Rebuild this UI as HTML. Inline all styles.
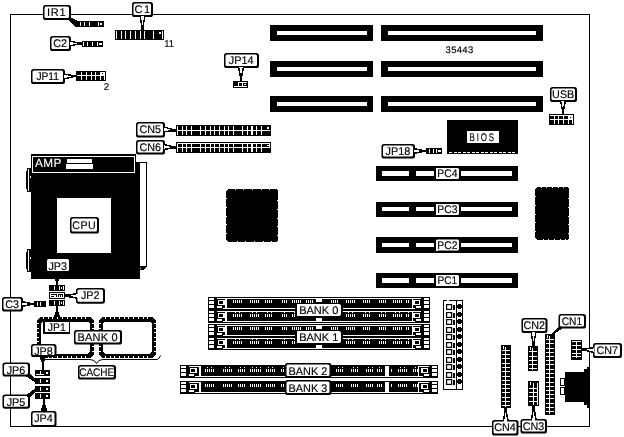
<!DOCTYPE html>
<html><head><meta charset="utf-8"><title>Motherboard diagram</title>
<style>
html,body{margin:0;padding:0;background:#fff;}
body{width:624px;height:437px;overflow:hidden;}
svg{display:block;font-family:"Liberation Sans",sans-serif;shape-rendering:crispEdges;}
svg .aa{shape-rendering:geometricPrecision;}
svg .cr{shape-rendering:crispEdges;}
svg text{shape-rendering:geometricPrecision;text-rendering:geometricPrecision;}
svg{filter:grayscale(1);}
</style></head>
<body>
<svg width="624" height="437" viewBox="0 0 624 437">
<rect x="0" y="0" width="624" height="437" fill="#fff"/>
<rect x="10.5" y="14.5" width="579" height="412" fill="none" stroke="#000" stroke-width="1"/>
<rect x="270" y="25" width="103" height="16" fill="#000"/>
<rect x="277" y="31" width="90" height="4" fill="#fff"/>
<rect x="381" y="25" width="162" height="16" fill="#000"/>
<rect x="388" y="31" width="148" height="4" fill="#fff"/>
<rect x="270" y="61" width="103" height="16" fill="#000"/>
<rect x="277" y="67" width="90" height="4" fill="#fff"/>
<rect x="381" y="61" width="162" height="16" fill="#000"/>
<rect x="388" y="67" width="148" height="4" fill="#fff"/>
<rect x="270" y="96" width="103" height="16" fill="#000"/>
<rect x="277" y="102" width="90" height="4" fill="#fff"/>
<rect x="381" y="96" width="162" height="16" fill="#000"/>
<rect x="388" y="102" width="148" height="4" fill="#fff"/>
<text transform="translate(459.5,53) scale(1.0,1)" font-size="9.5" text-anchor="middle" fill="#000" stroke="#000" stroke-width="0.15" letter-spacing="0.3">35443</text>
<rect x="376" y="166" width="142" height="15" fill="#000"/>
<rect x="382" y="171" width="27" height="5" fill="#fff"/>
<rect x="416" y="171" width="18" height="5" fill="#fff"/>
<rect x="461" y="171" width="51" height="5" fill="#fff"/>
<rect x="436" y="168" width="23" height="11" rx="1.5" fill="#fff" class="aa"/>
<rect x="436" y="168" width="2" height="11" fill="#fff"/>
<text transform="translate(447.4,177) scale(0.94,1)" font-size="11" text-anchor="middle" fill="#000" stroke="#000" stroke-width="0.15">PC4</text>
<rect x="376" y="202" width="142" height="15" fill="#000"/>
<rect x="382" y="207" width="27" height="4" fill="#fff"/>
<rect x="416" y="207" width="18" height="4" fill="#fff"/>
<rect x="461" y="207" width="51" height="4" fill="#fff"/>
<rect x="436" y="204" width="23" height="11" rx="1.5" fill="#fff" class="aa"/>
<rect x="436" y="204" width="2" height="11" fill="#fff"/>
<text transform="translate(447.4,213) scale(0.94,1)" font-size="11" text-anchor="middle" fill="#000" stroke="#000" stroke-width="0.15">PC3</text>
<rect x="376" y="237" width="142" height="16" fill="#000"/>
<rect x="382" y="243" width="27" height="4" fill="#fff"/>
<rect x="416" y="243" width="18" height="4" fill="#fff"/>
<rect x="461" y="243" width="51" height="4" fill="#fff"/>
<rect x="436" y="239.5" width="23" height="11" rx="1.5" fill="#fff" class="aa"/>
<rect x="436" y="239.5" width="2" height="11.0" fill="#fff"/>
<text transform="translate(447.4,248.5) scale(0.94,1)" font-size="11" text-anchor="middle" fill="#000" stroke="#000" stroke-width="0.15">PC2</text>
<rect x="376" y="273" width="142" height="15" fill="#000"/>
<rect x="382" y="278" width="27" height="5" fill="#fff"/>
<rect x="416" y="278" width="18" height="5" fill="#fff"/>
<rect x="461" y="278" width="51" height="5" fill="#fff"/>
<rect x="436" y="275" width="23" height="11" rx="1.5" fill="#fff" class="aa"/>
<rect x="436" y="275" width="2" height="11" fill="#fff"/>
<text transform="translate(447.4,284) scale(0.92,1)" font-size="11" text-anchor="middle" fill="#000" stroke="#000" stroke-width="0.15">PC1</text>
<rect x="447" y="120" width="71" height="34" fill="#000"/>
<rect x="449" y="152" width="3" height="1" fill="#fff"/>
<rect x="453.5" y="152" width="3.0" height="1" fill="#fff"/>
<rect x="458.0" y="152" width="3.0" height="1" fill="#fff"/>
<rect x="462.5" y="152" width="3.0" height="1" fill="#fff"/>
<rect x="467.0" y="152" width="3.0" height="1" fill="#fff"/>
<rect x="471.5" y="152" width="3.0" height="1" fill="#fff"/>
<rect x="476.0" y="152" width="3.0" height="1" fill="#fff"/>
<rect x="480.5" y="152" width="3.0" height="1" fill="#fff"/>
<rect x="485.0" y="152" width="3.0" height="1" fill="#fff"/>
<rect x="489.5" y="152" width="3.0" height="1" fill="#fff"/>
<rect x="494.0" y="152" width="3.0" height="1" fill="#fff"/>
<rect x="498.5" y="152" width="3.0" height="1" fill="#fff"/>
<rect x="503.0" y="152" width="3.0" height="1" fill="#fff"/>
<rect x="507.5" y="152" width="3.0" height="1" fill="#fff"/>
<rect x="512.0" y="152" width="3.0" height="1" fill="#fff"/>
<rect x="467" y="131" width="32" height="12" fill="#fff"/>
<text transform="translate(482.7,141) scale(0.72,1)" font-size="11" text-anchor="middle" fill="#000" stroke="#000" stroke-width="0.15" letter-spacing="2.6">BIOS</text>
<polygon points="228,189 276,189 278,191 278,240 276,242 228,242 226,240 226,191" fill="#000" class="cr"/>
<rect x="235" y="189" width="1" height="1" fill="#fff"/>
<rect x="237" y="241" width="1" height="1" fill="#fff"/>
<rect x="243" y="189" width="1" height="1" fill="#fff"/>
<rect x="245" y="241" width="1" height="1" fill="#fff"/>
<rect x="252" y="189" width="1" height="1" fill="#fff"/>
<rect x="254" y="241" width="1" height="1" fill="#fff"/>
<rect x="261" y="189" width="1" height="1" fill="#fff"/>
<rect x="263" y="241" width="1" height="1" fill="#fff"/>
<rect x="269" y="189" width="1" height="1" fill="#fff"/>
<rect x="271" y="241" width="1" height="1" fill="#fff"/>
<rect x="226" y="198" width="1" height="1" fill="#fff"/>
<rect x="277" y="200" width="1" height="1" fill="#fff"/>
<rect x="226" y="207" width="1" height="1" fill="#fff"/>
<rect x="277" y="209" width="1" height="1" fill="#fff"/>
<rect x="226" y="216" width="1" height="1" fill="#fff"/>
<rect x="277" y="218" width="1" height="1" fill="#fff"/>
<rect x="226" y="224" width="1" height="1" fill="#fff"/>
<rect x="277" y="226" width="1" height="1" fill="#fff"/>
<rect x="226" y="233" width="1" height="1" fill="#fff"/>
<rect x="277" y="235" width="1" height="1" fill="#fff"/>
<polygon points="537,187 567,187 569,189 569,238 567,240 537,240 535,238 535,189" fill="#000" class="cr"/>
<rect x="541" y="187" width="1" height="1" fill="#fff"/>
<rect x="543" y="239" width="1" height="1" fill="#fff"/>
<rect x="546" y="187" width="1" height="1" fill="#fff"/>
<rect x="548" y="239" width="1" height="1" fill="#fff"/>
<rect x="552" y="187" width="1" height="1" fill="#fff"/>
<rect x="554" y="239" width="1" height="1" fill="#fff"/>
<rect x="558" y="187" width="1" height="1" fill="#fff"/>
<rect x="560" y="239" width="1" height="1" fill="#fff"/>
<rect x="563" y="187" width="1" height="1" fill="#fff"/>
<rect x="565" y="239" width="1" height="1" fill="#fff"/>
<rect x="535" y="196" width="1" height="1" fill="#fff"/>
<rect x="568" y="198" width="1" height="1" fill="#fff"/>
<rect x="535" y="205" width="1" height="1" fill="#fff"/>
<rect x="568" y="207" width="1" height="1" fill="#fff"/>
<rect x="535" y="214" width="1" height="1" fill="#fff"/>
<rect x="568" y="216" width="1" height="1" fill="#fff"/>
<rect x="535" y="222" width="1" height="1" fill="#fff"/>
<rect x="568" y="224" width="1" height="1" fill="#fff"/>
<rect x="535" y="231" width="1" height="1" fill="#fff"/>
<rect x="568" y="233" width="1" height="1" fill="#fff"/>
<rect x="31" y="154" width="105" height="22" fill="#000"/>
<rect x="31" y="162" width="109" height="117" fill="#000"/>
<rect x="136" y="162" width="11" height="1" fill="#000"/>
<rect x="146" y="162" width="1" height="104" fill="#000"/>
<rect x="140" y="163" width="6" height="102" fill="#fff"/>
<polygon points="140,265 147,265 147,266 143,270 140,270" fill="#000" class="cr"/>
<rect x="140" y="265" width="6" height="1" fill="#fff"/>
<polygon points="140,266 146,266 142.5,269.5 140,269.5" fill="#000" class="cr"/>
<rect x="140" y="268" width="1" height="1" fill="#fff"/>
<rect x="32.5" y="156.5" width="102" height="16" fill="none" stroke="#fff" stroke-width="1"/>
<text transform="translate(35,166.7) scale(0.98,1)" font-size="12" text-anchor="start" fill="#fff" stroke="#fff" stroke-width="0.15" letter-spacing="0.5">AMP</text>
<rect x="67" y="159" width="25" height="4" fill="#fff"/>
<rect x="66" y="164" width="27" height="5" fill="#fff"/>
<rect x="57" y="198" width="54" height="55" fill="#fff"/>
<rect x="27" y="168" width="4" height="24" fill="#000"/>
<rect x="26" y="171" width="1" height="18" fill="#000"/>
<rect x="28" y="169" width="1.3" height="22" fill="#fff"/>
<rect x="30" y="176" width="1" height="2" fill="#fff"/>
<rect x="27" y="249" width="4" height="23" fill="#000"/>
<rect x="26" y="252" width="1" height="17" fill="#000"/>
<rect x="28" y="250" width="1.3" height="21" fill="#fff"/>
<rect x="30" y="257" width="1" height="2" fill="#fff"/>
<rect x="70" y="217" width="29" height="16.5" rx="2.6" ry="2.6" fill="#000" class="aa"/>
<rect x="71.5" y="218.4" width="25.5" height="13.1" rx="1.5" ry="1.5" fill="#fff" class="aa"/>
<text transform="translate(84.2,228.60000000000002) scale(0.97,1)" font-size="11" text-anchor="middle" fill="#000" stroke="#000" stroke-width="0.15" letter-spacing="0.5">CPU</text>
<rect x="47" y="259" width="22" height="12" rx="1.5" fill="#fff" class="aa"/>
<text transform="translate(57.7,269.5) scale(0.98,1)" font-size="11" text-anchor="middle" fill="#000" stroke="#000" stroke-width="0.15">JP3</text>
<rect x="56" y="271" width="2" height="14" fill="#000"/>
<polygon points="54.5,278 59.5,278 58,282 56,282" fill="#000" class="cr"/>
<rect x="49" y="285" width="16" height="6" fill="#000"/>
<rect x="54" y="286" width="1" height="4" fill="#fff"/>
<rect x="59" y="286" width="1" height="4" fill="#fff"/>
<rect x="61" y="287" width="1" height="2" fill="#fff"/>
<rect x="63" y="286" width="1" height="4" fill="#fff"/>
<rect x="49" y="292" width="16" height="7" fill="#000"/>
<rect x="50" y="293" width="14" height="5" fill="#fff"/>
<rect x="51" y="294" width="6" height="1" fill="#000"/>
<rect x="56" y="294" width="1" height="3" fill="#000"/>
<rect x="51" y="296" width="3" height="1" fill="#000"/>
<rect x="58" y="294" width="5" height="1" fill="#000"/>
<rect x="58" y="294" width="1" height="3" fill="#000"/>
<rect x="60" y="295" width="1" height="2" fill="#000"/>
<rect x="62" y="294" width="1" height="3" fill="#000"/>
<rect x="49" y="300" width="16" height="6" fill="#000"/>
<rect x="54" y="301" width="1" height="4" fill="#fff"/>
<rect x="59" y="301" width="1" height="4" fill="#fff"/>
<rect x="61" y="302" width="1" height="2" fill="#fff"/>
<rect x="63" y="301" width="1" height="4" fill="#fff"/>
<rect x="56" y="306" width="2" height="12" fill="#000"/>
<polygon points="56,311 58,311 60.5,317 53.5,317" fill="#000" class="cr"/>
<rect x="76" y="288" width="29" height="15.699999999999989" rx="2.6" ry="2.6" fill="#000" class="aa"/>
<rect x="77.5" y="289.4" width="25.5" height="12.3" rx="1.5" ry="1.5" fill="#fff" class="aa"/>
<text transform="translate(90.2,299.3) scale(0.98,1)" font-size="11" text-anchor="middle" fill="#000" stroke="#000" stroke-width="0.15">JP2</text>
<polygon points="76.5,292.8 68.22,294.3 65.0,294.3 65.0,297.3 68.22,297.3 76.5,298.8" fill="#000" class="cr"/>
<polygon points="77.5,294.1 77.5,297.5 69.6,295.8" fill="#fff" class="cr"/>
<rect x="2" y="297" width="21" height="14.5" rx="2.6" ry="2.6" fill="#000" class="aa"/>
<rect x="3.5" y="298.4" width="17.5" height="11.1" rx="1.5" ry="1.5" fill="#fff" class="aa"/>
<text transform="translate(12.2,308.3) scale(0.98,1)" font-size="11" text-anchor="middle" fill="#000" stroke="#000" stroke-width="0.15">C3</text>
<polygon points="22.5,307.0 30.78,305.3 34.0,305.3 34.0,302.7 30.78,302.7 22.5,301.0" fill="#000" class="cr"/>
<polygon points="21.5,305.7 21.5,302.3 29.4,304.0" fill="#fff" class="cr"/>
<rect x="34" y="301" width="12" height="5.5" fill="#000"/>
<rect x="37" y="302" width="1" height="4" fill="#fff"/>
<rect x="40" y="302" width="1" height="4" fill="#fff"/>
<polygon points="40.5,317 90.5,317 94,320.5 94,354.5 90.5,358 40.5,358 37,354.5 37,320.5" fill="#000" class="cr"/>
<polygon points="42.5,321.5 88.0,321.5 89.5,323.0 89.5,352.0 88.0,353.5 42.5,353.5 41,352.0 41,323.0" fill="#fff" class="cr"/>
<rect x="43" y="317" width="1" height="2" fill="#fff"/>
<rect x="43" y="356" width="1" height="2" fill="#fff"/>
<rect x="48" y="317" width="1" height="2" fill="#fff"/>
<rect x="48" y="356" width="1" height="2" fill="#fff"/>
<rect x="52" y="317" width="1" height="2" fill="#fff"/>
<rect x="52" y="356" width="1" height="2" fill="#fff"/>
<rect x="57" y="317" width="1" height="2" fill="#fff"/>
<rect x="57" y="356" width="1" height="2" fill="#fff"/>
<rect x="62" y="317" width="1" height="2" fill="#fff"/>
<rect x="62" y="356" width="1" height="2" fill="#fff"/>
<rect x="67" y="317" width="1" height="2" fill="#fff"/>
<rect x="67" y="356" width="1" height="2" fill="#fff"/>
<rect x="71" y="317" width="1" height="2" fill="#fff"/>
<rect x="71" y="356" width="1" height="2" fill="#fff"/>
<rect x="76" y="317" width="1" height="2" fill="#fff"/>
<rect x="76" y="356" width="1" height="2" fill="#fff"/>
<rect x="81" y="317" width="1" height="2" fill="#fff"/>
<rect x="81" y="356" width="1" height="2" fill="#fff"/>
<rect x="85" y="317" width="1" height="2" fill="#fff"/>
<rect x="85" y="356" width="1" height="2" fill="#fff"/>
<rect x="37" y="323" width="2" height="1" fill="#fff"/>
<rect x="92" y="323" width="2" height="1" fill="#fff"/>
<rect x="37" y="328" width="2" height="1" fill="#fff"/>
<rect x="92" y="328" width="2" height="1" fill="#fff"/>
<rect x="37" y="332" width="2" height="1" fill="#fff"/>
<rect x="92" y="332" width="2" height="1" fill="#fff"/>
<rect x="37" y="337" width="2" height="1" fill="#fff"/>
<rect x="92" y="337" width="2" height="1" fill="#fff"/>
<rect x="37" y="341" width="2" height="1" fill="#fff"/>
<rect x="92" y="341" width="2" height="1" fill="#fff"/>
<rect x="37" y="346" width="2" height="1" fill="#fff"/>
<rect x="92" y="346" width="2" height="1" fill="#fff"/>
<rect x="37" y="351" width="2" height="1" fill="#fff"/>
<rect x="92" y="351" width="2" height="1" fill="#fff"/>
<polygon points="102.5,317 152.5,317 156,320.5 156,354.5 152.5,358 102.5,358 99,354.5 99,320.5" fill="#000" class="cr"/>
<polygon points="104.5,321.5 150.0,321.5 151.5,323.0 151.5,352.0 150.0,353.5 104.5,353.5 103,352.0 103,323.0" fill="#fff" class="cr"/>
<rect x="105" y="317" width="1" height="2" fill="#fff"/>
<rect x="105" y="356" width="1" height="2" fill="#fff"/>
<rect x="110" y="317" width="1" height="2" fill="#fff"/>
<rect x="110" y="356" width="1" height="2" fill="#fff"/>
<rect x="114" y="317" width="1" height="2" fill="#fff"/>
<rect x="114" y="356" width="1" height="2" fill="#fff"/>
<rect x="119" y="317" width="1" height="2" fill="#fff"/>
<rect x="119" y="356" width="1" height="2" fill="#fff"/>
<rect x="124" y="317" width="1" height="2" fill="#fff"/>
<rect x="124" y="356" width="1" height="2" fill="#fff"/>
<rect x="128" y="317" width="1" height="2" fill="#fff"/>
<rect x="128" y="356" width="1" height="2" fill="#fff"/>
<rect x="133" y="317" width="1" height="2" fill="#fff"/>
<rect x="133" y="356" width="1" height="2" fill="#fff"/>
<rect x="138" y="317" width="1" height="2" fill="#fff"/>
<rect x="138" y="356" width="1" height="2" fill="#fff"/>
<rect x="143" y="317" width="1" height="2" fill="#fff"/>
<rect x="143" y="356" width="1" height="2" fill="#fff"/>
<rect x="147" y="317" width="1" height="2" fill="#fff"/>
<rect x="147" y="356" width="1" height="2" fill="#fff"/>
<rect x="99" y="323" width="2" height="1" fill="#fff"/>
<rect x="154" y="323" width="2" height="1" fill="#fff"/>
<rect x="99" y="328" width="2" height="1" fill="#fff"/>
<rect x="154" y="328" width="2" height="1" fill="#fff"/>
<rect x="99" y="332" width="2" height="1" fill="#fff"/>
<rect x="154" y="332" width="2" height="1" fill="#fff"/>
<rect x="99" y="337" width="2" height="1" fill="#fff"/>
<rect x="154" y="337" width="2" height="1" fill="#fff"/>
<rect x="99" y="341" width="2" height="1" fill="#fff"/>
<rect x="154" y="341" width="2" height="1" fill="#fff"/>
<rect x="99" y="346" width="2" height="1" fill="#fff"/>
<rect x="154" y="346" width="2" height="1" fill="#fff"/>
<rect x="99" y="351" width="2" height="1" fill="#fff"/>
<rect x="154" y="351" width="2" height="1" fill="#fff"/>
<rect x="43" y="321" width="27" height="13" fill="#000"/>
<rect x="44.5" y="321.5" width="24.0" height="10.8" fill="#fff"/>
<text transform="translate(56.7,331.3) scale(0.95,1)" font-size="11" text-anchor="middle" fill="#000" stroke="#000" stroke-width="0.15">JP1</text>
<rect x="74" y="330" width="48" height="14.5" rx="2.6" ry="2.6" fill="#000" class="aa"/>
<rect x="75.5" y="331.4" width="44.5" height="11.1" rx="1.5" ry="1.5" fill="#fff" class="aa"/>
<text transform="translate(97.7,341.3) scale(1.0,1)" font-size="11" text-anchor="middle" fill="#000" stroke="#000" stroke-width="0.15" letter-spacing="0.2">BANK 0</text>
<path d="M40.5 356.5 L40.5 359.5 L90 359.5 Q95 359.5 96.5 363.5 Q98 359.5 103 359.5 L157 359.5 Q159.5 359 160.5 355.5" fill="none" stroke="#000" stroke-width="1" class="aa"/>
<rect x="78" y="365" width="38" height="14.5" rx="2.6" ry="2.6" fill="#000" class="aa"/>
<rect x="79.5" y="366.4" width="34.5" height="11.1" rx="1.5" ry="1.5" fill="#fff" class="aa"/>
<text transform="translate(96.7,376.3) scale(0.91,1)" font-size="11" text-anchor="middle" fill="#000" stroke="#000" stroke-width="0.15">CACHE</text>
<rect x="31" y="344" width="25.5" height="13" rx="2.6" ry="2.6" fill="#000" class="aa"/>
<rect x="32.5" y="345.4" width="22.0" height="9.6" rx="1.5" ry="1.5" fill="#fff" class="aa"/>
<text transform="translate(43.45,355.3) scale(0.98,1)" font-size="11" text-anchor="middle" fill="#000" stroke="#000" stroke-width="0.15">JP8</text>
<rect x="42" y="357" width="2" height="13" fill="#000"/>
<polygon points="40,357 46,357 44,363 42,363" fill="#000" class="cr"/>
<rect x="35" y="370" width="15" height="6" fill="#000"/>
<rect x="40" y="371" width="1" height="4" fill="#fff"/>
<rect x="46" y="372" width="2" height="2" fill="#fff"/>
<rect x="35" y="378" width="15" height="6" fill="#000"/>
<rect x="40" y="379" width="1" height="4" fill="#fff"/>
<rect x="46" y="380" width="2" height="2" fill="#fff"/>
<rect x="35" y="386" width="15" height="6" fill="#000"/>
<rect x="40" y="387" width="1" height="4" fill="#fff"/>
<rect x="46" y="388" width="2" height="2" fill="#fff"/>
<rect x="35" y="393" width="15" height="6" fill="#000"/>
<rect x="40" y="394" width="1" height="4" fill="#fff"/>
<rect x="46" y="395" width="2" height="2" fill="#fff"/>
<rect x="36" y="374" width="8" height="1" fill="#fff"/>
<rect x="43" y="399" width="2" height="12" fill="#000"/>
<polygon points="43,404 45,404 47.5,411 40.5,411" fill="#000" class="cr"/>
<rect x="2.5" y="362.5" width="27.5" height="14.0" rx="2.6" ry="2.6" fill="#000" class="aa"/>
<rect x="4.0" y="363.9" width="24.0" height="10.6" rx="1.5" ry="1.5" fill="#fff" class="aa"/>
<text transform="translate(15.95,373.8) scale(0.98,1)" font-size="11" text-anchor="middle" fill="#000" stroke="#000" stroke-width="0.15">JP6</text>
<rect x="2.5" y="394.5" width="27.5" height="14.199999999999989" rx="2.6" ry="2.6" fill="#000" class="aa"/>
<rect x="4.0" y="395.9" width="24.0" height="10.8" rx="1.5" ry="1.5" fill="#fff" class="aa"/>
<text transform="translate(15.95,405.8) scale(0.98,1)" font-size="11" text-anchor="middle" fill="#000" stroke="#000" stroke-width="0.15">JP5</text>
<rect x="31" y="411" width="25.5" height="16" rx="2.6" ry="2.6" fill="#000" class="aa"/>
<rect x="32.5" y="412.4" width="22.0" height="12.6" rx="1.5" ry="1.5" fill="#fff" class="aa"/>
<text transform="translate(43.45,422.3) scale(0.98,1)" font-size="11" text-anchor="middle" fill="#000" stroke="#000" stroke-width="0.15">JP4</text>
<polygon points="25.5,376 29.5,373.5 36,379.5 36,382.8" fill="#000" class="cr"/>
<polygon points="25.5,395.5 29.5,398 36,391.3 36,388" fill="#000" class="cr"/>
<rect x="43" y="5" width="28" height="15" rx="2.6" ry="2.6" fill="#000" class="aa"/>
<rect x="44.5" y="6.4" width="24.5" height="11.6" rx="1.5" ry="1.5" fill="#fff" class="aa"/>
<text transform="translate(56.7,16.3) scale(1.0,1)" font-size="11" text-anchor="middle" fill="#000" stroke="#000" stroke-width="0.15" letter-spacing="0.7">IR1</text>
<polygon points="67,19 70.5,17 78,21 76,27 75,27" fill="#000" class="cr"/>
<rect x="75" y="21" width="29" height="6" fill="#000"/>
<rect x="80" y="22" width="1" height="4" fill="#fff"/>
<rect x="84" y="22" width="1" height="4" fill="#fff"/>
<rect x="89" y="22" width="1" height="4" fill="#fff"/>
<rect x="98" y="22" width="1" height="4" fill="#fff"/>
<rect x="100" y="23" width="2" height="2" fill="#fff"/>
<rect x="50" y="36" width="21" height="15" rx="2.6" ry="2.6" fill="#000" class="aa"/>
<rect x="51.5" y="37.4" width="17.5" height="11.6" rx="1.5" ry="1.5" fill="#fff" class="aa"/>
<text transform="translate(60.2,47.3) scale(0.98,1)" font-size="11" text-anchor="middle" fill="#000" stroke="#000" stroke-width="0.15">C2</text>
<polygon points="70.5,46.5 78.78,44.8 82.0,44.8 82.0,42.2 78.78,42.2 70.5,40.5" fill="#000" class="cr"/>
<polygon points="69.5,45.2 69.5,41.8 77.4,43.5" fill="#fff" class="cr"/>
<rect x="82" y="41" width="21" height="6" fill="#000"/>
<rect x="83" y="42" width="1" height="4" fill="#fff"/>
<rect x="87" y="42" width="1" height="4" fill="#fff"/>
<rect x="92" y="42" width="1" height="4" fill="#fff"/>
<rect x="97" y="42" width="1" height="4" fill="#fff"/>
<rect x="99" y="43" width="3" height="2" fill="#fff"/>
<rect x="132" y="2" width="21" height="15" rx="2.6" ry="2.6" fill="#000" class="aa"/>
<rect x="133.5" y="3.4" width="17.5" height="11.6" rx="1.5" ry="1.5" fill="#fff" class="aa"/>
<text transform="translate(143.0,13.3) scale(1.0,1)" font-size="11" text-anchor="middle" fill="#000" stroke="#000" stroke-width="0.15" letter-spacing="1.6">C1</text>
<polygon points="139.5,17.0 141.2,26.36 141.2,30.0 143.8,30.0 143.8,26.36 145.5,17.0" fill="#000" class="cr"/>
<polygon points="140.8,16.0 144.2,16.0 142.5,24.8" fill="#fff" class="cr"/>
<rect x="115" y="30" width="49" height="10" fill="#000"/>
<rect x="116" y="31" width="1" height="8" fill="#fff"/>
<rect x="121" y="31" width="1" height="8" fill="#fff"/>
<rect x="125" y="31" width="1" height="8" fill="#fff"/>
<rect x="130" y="31" width="1" height="8" fill="#fff"/>
<rect x="135" y="31" width="1" height="8" fill="#fff"/>
<rect x="139.5" y="31" width="1.0" height="8" fill="#fff"/>
<rect x="144" y="31" width="1" height="8" fill="#fff"/>
<rect x="153" y="31" width="1" height="8" fill="#fff"/>
<rect x="159" y="32" width="2" height="2" fill="#fff"/>
<rect x="162" y="31" width="1" height="8" fill="#fff"/>
<text transform="translate(164.2,46.8) scale(0.95,1)" font-size="10" text-anchor="start" fill="#000" stroke="#000" stroke-width="0.15">11</text>
<rect x="31" y="69" width="34" height="15" rx="2.6" ry="2.6" fill="#000" class="aa"/>
<rect x="32.5" y="70.4" width="30.5" height="11.6" rx="1.5" ry="1.5" fill="#fff" class="aa"/>
<text transform="translate(47.7,80.3) scale(0.93,1)" font-size="11" text-anchor="middle" fill="#000" stroke="#000" stroke-width="0.15">JP11</text>
<polygon points="65.12489163413655,79.49739921927706 73.69411970812584,77.43887299502006 77.05411970812584,77.29887299502006 76.94588029187416,74.70112700497994 73.58588029187416,74.84112700497994 64.87510836586345,73.50260078072294" fill="#000" class="cr"/>
<polygon points="64.07163885291835,78.24015676896917 63.93009500089694,74.84310432045518 72.2,76.2" fill="#fff" class="cr"/>
<rect x="76" y="71" width="30" height="10" fill="#000"/>
<rect x="77" y="75" width="28" height="1" fill="#fff"/>
<rect x="81" y="72" width="1" height="8" fill="#fff"/>
<rect x="86" y="72" width="1" height="8" fill="#fff"/>
<rect x="90.5" y="72" width="1.0" height="8" fill="#fff"/>
<rect x="95" y="72" width="1" height="8" fill="#fff"/>
<rect x="100" y="72" width="1" height="8" fill="#fff"/>
<rect x="104" y="72" width="1" height="8" fill="#fff"/>
<rect x="101" y="72" width="3" height="3" fill="#fff"/>
<rect x="102" y="73" width="1" height="1" fill="#000"/>
<text transform="translate(103.8,89.8) scale(0.97,1)" font-size="10" text-anchor="start" fill="#000" stroke="#000" stroke-width="0.15">2</text>
<rect x="224" y="53" width="35" height="15" rx="2.6" ry="2.6" fill="#000" class="aa"/>
<rect x="225.5" y="54.4" width="31.5" height="11.6" rx="1.5" ry="1.5" fill="#fff" class="aa"/>
<text transform="translate(241.2,64.3) scale(0.99,1)" font-size="11" text-anchor="middle" fill="#000" stroke="#000" stroke-width="0.15">JP14</text>
<polygon points="238.0,68.0 239.7,77.36 239.7,81.0 242.3,81.0 242.3,77.36 244.0,68.0" fill="#000" class="cr"/>
<polygon points="239.3,67.0 242.7,67.0 241.0,75.8" fill="#fff" class="cr"/>
<rect x="233" y="81" width="15" height="7" fill="#000"/>
<rect x="234" y="86" width="13" height="1" fill="#fff"/>
<rect x="238" y="82" width="9" height="1" fill="#fff"/>
<rect x="238" y="82" width="1" height="5" fill="#fff"/>
<rect x="242" y="82" width="1" height="5" fill="#fff"/>
<rect x="244" y="84" width="2" height="1" fill="#fff"/>
<rect x="136" y="122" width="29" height="15.599999999999994" rx="2.6" ry="2.6" fill="#000" class="aa"/>
<rect x="137.5" y="123.4" width="25.5" height="12.2" rx="1.5" ry="1.5" fill="#fff" class="aa"/>
<text transform="translate(150.2,133.3) scale(0.98,1)" font-size="11" text-anchor="middle" fill="#000" stroke="#000" stroke-width="0.15">CN5</text>
<rect x="136" y="140" width="29" height="14.5" rx="2.6" ry="2.6" fill="#000" class="aa"/>
<rect x="137.5" y="141.4" width="25.5" height="11.1" rx="1.5" ry="1.5" fill="#fff" class="aa"/>
<text transform="translate(150.2,151.3) scale(0.98,1)" font-size="11" text-anchor="middle" fill="#000" stroke="#000" stroke-width="0.15">CN6</text>
<polygon points="164.72839276187244,132.4876796194031 172.8023035301447,131.51466116840803 175.88230353014472,131.79466116840803 176.11769646985528,129.20533883159197 173.03769646985526,128.92533883159197 165.27160723812756,126.51232038059689" fill="#000" class="cr"/>
<polygon points="163.85019602526,131.10248270495256 164.15801756180457,127.71644580296238 171.6,130.1" fill="#fff" class="cr"/>
<polygon points="164.86377701724405,149.9969056206309 172.86097004080574,148.6586591022734 175.94097004080575,148.79865910227338 176.05902995919425,146.20134089772662 172.97902995919424,146.06134089772664 165.13622298275595,144.0030943793691" fill="#000" class="cr"/>
<polygon points="163.92383843622798,148.65283885743887 164.0782244833514,145.25634582072385 171.6,147.3" fill="#fff" class="cr"/>
<rect x="176" y="125" width="95" height="11" fill="#000"/>
<rect x="176" y="142" width="95" height="11" fill="#000"/>
<rect x="177" y="130" width="93" height="1" fill="#fff"/>
<rect x="177" y="143" width="93" height="1" fill="#fff"/>
<rect x="177" y="147" width="93" height="1" fill="#fff"/>
<rect x="269" y="143" width="1" height="5" fill="#fff"/>
<rect x="177" y="126" width="1" height="9" fill="#fff"/>
<rect x="177" y="143" width="1" height="9" fill="#fff"/>
<rect x="182" y="126" width="1" height="9" fill="#fff"/>
<rect x="182" y="143" width="1" height="9" fill="#fff"/>
<rect x="186" y="126" width="1" height="9" fill="#fff"/>
<rect x="186" y="143" width="1" height="9" fill="#fff"/>
<rect x="191" y="126" width="1" height="9" fill="#fff"/>
<rect x="191" y="143" width="1" height="9" fill="#fff"/>
<rect x="200" y="126" width="1" height="9" fill="#fff"/>
<rect x="200" y="143" width="1" height="9" fill="#fff"/>
<rect x="205" y="126" width="1" height="9" fill="#fff"/>
<rect x="205" y="143" width="1" height="9" fill="#fff"/>
<rect x="210" y="126" width="1" height="9" fill="#fff"/>
<rect x="210" y="143" width="1" height="9" fill="#fff"/>
<rect x="214" y="126" width="1" height="9" fill="#fff"/>
<rect x="214" y="143" width="1" height="9" fill="#fff"/>
<rect x="219" y="126" width="1" height="9" fill="#fff"/>
<rect x="219" y="143" width="1" height="9" fill="#fff"/>
<rect x="224" y="126" width="1" height="9" fill="#fff"/>
<rect x="224" y="143" width="1" height="9" fill="#fff"/>
<rect x="228" y="126" width="1" height="9" fill="#fff"/>
<rect x="228" y="143" width="1" height="9" fill="#fff"/>
<rect x="233" y="126" width="1" height="9" fill="#fff"/>
<rect x="233" y="143" width="1" height="9" fill="#fff"/>
<rect x="242" y="126" width="1" height="9" fill="#fff"/>
<rect x="242" y="143" width="1" height="9" fill="#fff"/>
<rect x="247" y="126" width="1" height="9" fill="#fff"/>
<rect x="247" y="143" width="1" height="9" fill="#fff"/>
<rect x="251" y="126" width="2" height="9" fill="#fff"/>
<rect x="251" y="143" width="2" height="9" fill="#fff"/>
<rect x="256" y="126" width="1" height="9" fill="#fff"/>
<rect x="256" y="143" width="1" height="9" fill="#fff"/>
<rect x="261" y="126" width="1" height="9" fill="#fff"/>
<rect x="261" y="143" width="1" height="9" fill="#fff"/>
<rect x="267" y="127" width="2" height="2" fill="#fff"/>
<rect x="267" y="145" width="2" height="1" fill="#fff"/>
<rect x="550" y="87" width="27" height="15" rx="2.6" ry="2.6" fill="#000" class="aa"/>
<rect x="551.5" y="88.4" width="23.5" height="11.6" rx="1.5" ry="1.5" fill="#fff" class="aa"/>
<text transform="translate(563.2,98.3) scale(0.98,1)" font-size="11" text-anchor="middle" fill="#000" stroke="#000" stroke-width="0.15">USB</text>
<polygon points="560.0,101.5 561.7,110.5 561.7,114.0 564.3,114.0 564.3,110.5 566.0,101.5" fill="#000" class="cr"/>
<polygon points="561.3,100.5 564.7,100.5 563.0,109.0" fill="#fff" class="cr"/>
<rect x="549" y="114" width="25" height="11" fill="#000"/>
<rect x="550" y="115" width="23" height="1" fill="#fff"/>
<rect x="550" y="119" width="23" height="1" fill="#fff"/>
<rect x="554" y="115" width="1" height="9" fill="#fff"/>
<rect x="558" y="115" width="1" height="9" fill="#fff"/>
<rect x="563" y="115" width="1" height="9" fill="#fff"/>
<rect x="568" y="115" width="1" height="9" fill="#fff"/>
<rect x="572" y="115" width="1" height="9" fill="#fff"/>
<rect x="569" y="116" width="3" height="3" fill="#fff"/>
<rect x="570" y="117" width="1" height="1" fill="#000"/>
<rect x="381.5" y="144" width="33.5" height="14.5" rx="2.6" ry="2.6" fill="#000" class="aa"/>
<rect x="383.0" y="145.4" width="30.0" height="11.1" rx="1.5" ry="1.5" fill="#fff" class="aa"/>
<text transform="translate(397.95,155.3) scale(0.99,1)" font-size="11" text-anchor="middle" fill="#000" stroke="#000" stroke-width="0.15">JP18</text>
<polygon points="414.5,154.0 422.78,152.3 426.0,152.3 426.0,149.7 422.78,149.7 414.5,148.0" fill="#000" class="cr"/>
<polygon points="413.5,152.7 413.5,149.3 421.4,151.0" fill="#fff" class="cr"/>
<rect x="426" y="148" width="16" height="6" fill="#000"/>
<rect x="429" y="149" width="1" height="4" fill="#fff"/>
<rect x="432.5" y="149" width="1.0" height="4" fill="#fff"/>
<rect x="436" y="149" width="1" height="4" fill="#fff"/>
<rect x="438" y="150" width="2.5" height="2" fill="#fff"/>
<rect x="208" y="297" width="222" height="13" fill="#000"/>
<rect x="209" y="298" width="5" height="2" fill="#fff"/>
<rect x="209" y="301" width="5" height="3" fill="#fff"/>
<rect x="209" y="305" width="5" height="3" fill="#fff"/>
<rect x="217" y="298" width="8" height="1" fill="#fff"/>
<rect x="218" y="300" width="7" height="5" fill="#fff"/>
<rect x="219" y="301" width="4" height="3" fill="#000"/>
<rect x="217" y="306" width="5" height="2" fill="#fff"/>
<rect x="225" y="298" width="1.5" height="11" fill="#fff"/>
<rect x="424" y="298" width="5" height="2" fill="#fff"/>
<rect x="424" y="301" width="5" height="3" fill="#fff"/>
<rect x="424" y="305" width="5" height="3" fill="#fff"/>
<rect x="413" y="298" width="8" height="1" fill="#fff"/>
<rect x="413" y="300" width="7" height="5" fill="#fff"/>
<rect x="415" y="301" width="4" height="3" fill="#000"/>
<rect x="416" y="306" width="5" height="2" fill="#fff"/>
<rect x="411.5" y="298" width="1.5" height="11" fill="#fff"/>
<rect x="223" y="308" width="192" height="1" fill="#fff"/>
<rect x="225" y="298" width="188" height="1" fill="#fff"/>
<rect x="233" y="300" width="1" height="3" fill="#fff"/>
<rect x="235" y="300" width="1" height="3" fill="#fff"/>
<rect x="237" y="300" width="1" height="3" fill="#fff"/>
<rect x="239" y="300" width="1" height="3" fill="#fff"/>
<rect x="241" y="300" width="1" height="3" fill="#fff"/>
<rect x="250" y="300" width="1" height="3" fill="#fff"/>
<rect x="252" y="300" width="1" height="3" fill="#fff"/>
<rect x="254" y="300" width="1" height="3" fill="#fff"/>
<rect x="256" y="300" width="1" height="3" fill="#fff"/>
<rect x="258" y="300" width="1" height="3" fill="#fff"/>
<rect x="265" y="300" width="1" height="3" fill="#fff"/>
<rect x="267" y="300" width="1" height="3" fill="#fff"/>
<rect x="269" y="300" width="1" height="3" fill="#fff"/>
<rect x="271" y="300" width="1" height="3" fill="#fff"/>
<rect x="282" y="300" width="1" height="3" fill="#fff"/>
<rect x="284" y="300" width="1" height="3" fill="#fff"/>
<rect x="286" y="300" width="1" height="3" fill="#fff"/>
<rect x="292" y="300" width="1" height="3" fill="#fff"/>
<rect x="294" y="300" width="1" height="3" fill="#fff"/>
<rect x="296" y="300" width="1" height="3" fill="#fff"/>
<rect x="298" y="300" width="1" height="3" fill="#fff"/>
<rect x="300" y="300" width="1" height="3" fill="#fff"/>
<rect x="306" y="300" width="1" height="3" fill="#fff"/>
<rect x="308" y="300" width="1" height="3" fill="#fff"/>
<rect x="310" y="300" width="1" height="3" fill="#fff"/>
<rect x="312" y="300" width="1" height="3" fill="#fff"/>
<rect x="331" y="300" width="1" height="3" fill="#fff"/>
<rect x="333" y="300" width="1" height="3" fill="#fff"/>
<rect x="335" y="300" width="1" height="3" fill="#fff"/>
<rect x="337" y="300" width="1" height="3" fill="#fff"/>
<rect x="346" y="300" width="1" height="3" fill="#fff"/>
<rect x="348" y="300" width="1" height="3" fill="#fff"/>
<rect x="350" y="300" width="1" height="3" fill="#fff"/>
<rect x="352" y="300" width="1" height="3" fill="#fff"/>
<rect x="354" y="300" width="1" height="3" fill="#fff"/>
<rect x="363" y="300" width="1" height="3" fill="#fff"/>
<rect x="365" y="300" width="1" height="3" fill="#fff"/>
<rect x="367" y="300" width="1" height="3" fill="#fff"/>
<rect x="369" y="300" width="1" height="3" fill="#fff"/>
<rect x="379" y="300" width="1" height="3" fill="#fff"/>
<rect x="381" y="300" width="1" height="3" fill="#fff"/>
<rect x="383" y="300" width="1" height="3" fill="#fff"/>
<rect x="385" y="300" width="1" height="3" fill="#fff"/>
<rect x="393" y="300" width="1" height="3" fill="#fff"/>
<rect x="395" y="300" width="1" height="3" fill="#fff"/>
<rect x="397" y="300" width="1" height="3" fill="#fff"/>
<rect x="399" y="300" width="1" height="3" fill="#fff"/>
<rect x="401" y="300" width="1" height="3" fill="#fff"/>
<rect x="406" y="300" width="1" height="3" fill="#fff"/>
<rect x="408" y="300" width="1" height="3" fill="#fff"/>
<rect x="208" y="310" width="222" height="13" fill="#000"/>
<rect x="209" y="311" width="5" height="2" fill="#fff"/>
<rect x="209" y="314" width="5" height="3" fill="#fff"/>
<rect x="209" y="318" width="5" height="3" fill="#fff"/>
<rect x="217" y="311" width="8" height="1" fill="#fff"/>
<rect x="218" y="313" width="7" height="5" fill="#fff"/>
<rect x="219" y="314" width="4" height="3" fill="#000"/>
<rect x="217" y="319" width="5" height="2" fill="#fff"/>
<rect x="225" y="311" width="1.5" height="11" fill="#fff"/>
<rect x="424" y="311" width="5" height="2" fill="#fff"/>
<rect x="424" y="314" width="5" height="3" fill="#fff"/>
<rect x="424" y="318" width="5" height="3" fill="#fff"/>
<rect x="413" y="311" width="8" height="1" fill="#fff"/>
<rect x="413" y="313" width="7" height="5" fill="#fff"/>
<rect x="415" y="314" width="4" height="3" fill="#000"/>
<rect x="416" y="319" width="5" height="2" fill="#fff"/>
<rect x="411.5" y="311" width="1.5" height="11" fill="#fff"/>
<rect x="223" y="321" width="192" height="1" fill="#fff"/>
<rect x="225" y="311" width="188" height="1" fill="#fff"/>
<rect x="233" y="314" width="1" height="3" fill="#fff"/>
<rect x="235" y="314" width="1" height="3" fill="#fff"/>
<rect x="235" y="312" width="1" height="1" fill="#fff"/>
<rect x="237" y="314" width="1" height="3" fill="#fff"/>
<rect x="239" y="314" width="1" height="3" fill="#fff"/>
<rect x="239" y="312" width="1" height="1" fill="#fff"/>
<rect x="241" y="314" width="1" height="3" fill="#fff"/>
<rect x="250" y="314" width="1" height="3" fill="#fff"/>
<rect x="252" y="314" width="1" height="3" fill="#fff"/>
<rect x="252" y="312" width="1" height="1" fill="#fff"/>
<rect x="254" y="314" width="1" height="3" fill="#fff"/>
<rect x="256" y="314" width="1" height="3" fill="#fff"/>
<rect x="256" y="312" width="1" height="1" fill="#fff"/>
<rect x="258" y="314" width="1" height="3" fill="#fff"/>
<rect x="265" y="314" width="1" height="3" fill="#fff"/>
<rect x="267" y="314" width="1" height="3" fill="#fff"/>
<rect x="267" y="312" width="1" height="1" fill="#fff"/>
<rect x="269" y="314" width="1" height="3" fill="#fff"/>
<rect x="271" y="314" width="1" height="3" fill="#fff"/>
<rect x="271" y="312" width="1" height="1" fill="#fff"/>
<rect x="282" y="314" width="1" height="3" fill="#fff"/>
<rect x="284" y="314" width="1" height="3" fill="#fff"/>
<rect x="284" y="312" width="1" height="1" fill="#fff"/>
<rect x="286" y="314" width="1" height="3" fill="#fff"/>
<rect x="292" y="314" width="1" height="3" fill="#fff"/>
<rect x="294" y="314" width="1" height="3" fill="#fff"/>
<rect x="294" y="312" width="1" height="1" fill="#fff"/>
<rect x="346" y="314" width="1" height="3" fill="#fff"/>
<rect x="348" y="314" width="1" height="3" fill="#fff"/>
<rect x="348" y="312" width="1" height="1" fill="#fff"/>
<rect x="350" y="314" width="1" height="3" fill="#fff"/>
<rect x="352" y="314" width="1" height="3" fill="#fff"/>
<rect x="352" y="312" width="1" height="1" fill="#fff"/>
<rect x="354" y="314" width="1" height="3" fill="#fff"/>
<rect x="363" y="314" width="1" height="3" fill="#fff"/>
<rect x="365" y="314" width="1" height="3" fill="#fff"/>
<rect x="365" y="312" width="1" height="1" fill="#fff"/>
<rect x="367" y="314" width="1" height="3" fill="#fff"/>
<rect x="369" y="314" width="1" height="3" fill="#fff"/>
<rect x="369" y="312" width="1" height="1" fill="#fff"/>
<rect x="379" y="314" width="1" height="3" fill="#fff"/>
<rect x="381" y="314" width="1" height="3" fill="#fff"/>
<rect x="381" y="312" width="1" height="1" fill="#fff"/>
<rect x="383" y="314" width="1" height="3" fill="#fff"/>
<rect x="385" y="314" width="1" height="3" fill="#fff"/>
<rect x="385" y="312" width="1" height="1" fill="#fff"/>
<rect x="393" y="314" width="1" height="3" fill="#fff"/>
<rect x="395" y="314" width="1" height="3" fill="#fff"/>
<rect x="395" y="312" width="1" height="1" fill="#fff"/>
<rect x="397" y="314" width="1" height="3" fill="#fff"/>
<rect x="399" y="314" width="1" height="3" fill="#fff"/>
<rect x="399" y="312" width="1" height="1" fill="#fff"/>
<rect x="401" y="314" width="1" height="3" fill="#fff"/>
<rect x="406" y="314" width="1" height="3" fill="#fff"/>
<rect x="408" y="314" width="1" height="3" fill="#fff"/>
<rect x="408" y="312" width="1" height="1" fill="#fff"/>
<rect x="208" y="323" width="222" height="1" fill="#fff"/>
<rect x="208" y="324" width="222" height="13" fill="#000"/>
<rect x="209" y="325" width="5" height="2" fill="#fff"/>
<rect x="209" y="328" width="5" height="3" fill="#fff"/>
<rect x="209" y="332" width="5" height="3" fill="#fff"/>
<rect x="217" y="325" width="8" height="1" fill="#fff"/>
<rect x="218" y="327" width="7" height="5" fill="#fff"/>
<rect x="219" y="328" width="4" height="3" fill="#000"/>
<rect x="217" y="333" width="5" height="2" fill="#fff"/>
<rect x="225" y="325" width="1.5" height="11" fill="#fff"/>
<rect x="424" y="325" width="5" height="2" fill="#fff"/>
<rect x="424" y="328" width="5" height="3" fill="#fff"/>
<rect x="424" y="332" width="5" height="3" fill="#fff"/>
<rect x="413" y="325" width="8" height="1" fill="#fff"/>
<rect x="413" y="327" width="7" height="5" fill="#fff"/>
<rect x="415" y="328" width="4" height="3" fill="#000"/>
<rect x="416" y="333" width="5" height="2" fill="#fff"/>
<rect x="411.5" y="325" width="1.5" height="11" fill="#fff"/>
<rect x="223" y="335" width="192" height="1" fill="#fff"/>
<rect x="225" y="325" width="188" height="1" fill="#fff"/>
<rect x="233" y="327" width="1" height="3" fill="#fff"/>
<rect x="235" y="327" width="1" height="3" fill="#fff"/>
<rect x="237" y="327" width="1" height="3" fill="#fff"/>
<rect x="239" y="327" width="1" height="3" fill="#fff"/>
<rect x="241" y="327" width="1" height="3" fill="#fff"/>
<rect x="250" y="327" width="1" height="3" fill="#fff"/>
<rect x="252" y="327" width="1" height="3" fill="#fff"/>
<rect x="254" y="327" width="1" height="3" fill="#fff"/>
<rect x="256" y="327" width="1" height="3" fill="#fff"/>
<rect x="258" y="327" width="1" height="3" fill="#fff"/>
<rect x="265" y="327" width="1" height="3" fill="#fff"/>
<rect x="267" y="327" width="1" height="3" fill="#fff"/>
<rect x="269" y="327" width="1" height="3" fill="#fff"/>
<rect x="271" y="327" width="1" height="3" fill="#fff"/>
<rect x="282" y="327" width="1" height="3" fill="#fff"/>
<rect x="284" y="327" width="1" height="3" fill="#fff"/>
<rect x="286" y="327" width="1" height="3" fill="#fff"/>
<rect x="292" y="327" width="1" height="3" fill="#fff"/>
<rect x="294" y="327" width="1" height="3" fill="#fff"/>
<rect x="296" y="327" width="1" height="3" fill="#fff"/>
<rect x="298" y="327" width="1" height="3" fill="#fff"/>
<rect x="300" y="327" width="1" height="3" fill="#fff"/>
<rect x="306" y="327" width="1" height="3" fill="#fff"/>
<rect x="308" y="327" width="1" height="3" fill="#fff"/>
<rect x="310" y="327" width="1" height="3" fill="#fff"/>
<rect x="312" y="327" width="1" height="3" fill="#fff"/>
<rect x="331" y="327" width="1" height="3" fill="#fff"/>
<rect x="333" y="327" width="1" height="3" fill="#fff"/>
<rect x="335" y="327" width="1" height="3" fill="#fff"/>
<rect x="337" y="327" width="1" height="3" fill="#fff"/>
<rect x="346" y="327" width="1" height="3" fill="#fff"/>
<rect x="348" y="327" width="1" height="3" fill="#fff"/>
<rect x="350" y="327" width="1" height="3" fill="#fff"/>
<rect x="352" y="327" width="1" height="3" fill="#fff"/>
<rect x="354" y="327" width="1" height="3" fill="#fff"/>
<rect x="363" y="327" width="1" height="3" fill="#fff"/>
<rect x="365" y="327" width="1" height="3" fill="#fff"/>
<rect x="367" y="327" width="1" height="3" fill="#fff"/>
<rect x="369" y="327" width="1" height="3" fill="#fff"/>
<rect x="379" y="327" width="1" height="3" fill="#fff"/>
<rect x="381" y="327" width="1" height="3" fill="#fff"/>
<rect x="383" y="327" width="1" height="3" fill="#fff"/>
<rect x="385" y="327" width="1" height="3" fill="#fff"/>
<rect x="393" y="327" width="1" height="3" fill="#fff"/>
<rect x="395" y="327" width="1" height="3" fill="#fff"/>
<rect x="397" y="327" width="1" height="3" fill="#fff"/>
<rect x="399" y="327" width="1" height="3" fill="#fff"/>
<rect x="401" y="327" width="1" height="3" fill="#fff"/>
<rect x="406" y="327" width="1" height="3" fill="#fff"/>
<rect x="408" y="327" width="1" height="3" fill="#fff"/>
<rect x="208" y="337" width="222" height="13" fill="#000"/>
<rect x="209" y="338" width="5" height="2" fill="#fff"/>
<rect x="209" y="341" width="5" height="3" fill="#fff"/>
<rect x="209" y="345" width="5" height="3" fill="#fff"/>
<rect x="217" y="338" width="8" height="1" fill="#fff"/>
<rect x="218" y="340" width="7" height="5" fill="#fff"/>
<rect x="219" y="341" width="4" height="3" fill="#000"/>
<rect x="217" y="346" width="5" height="2" fill="#fff"/>
<rect x="225" y="338" width="1.5" height="11" fill="#fff"/>
<rect x="424" y="338" width="5" height="2" fill="#fff"/>
<rect x="424" y="341" width="5" height="3" fill="#fff"/>
<rect x="424" y="345" width="5" height="3" fill="#fff"/>
<rect x="413" y="338" width="8" height="1" fill="#fff"/>
<rect x="413" y="340" width="7" height="5" fill="#fff"/>
<rect x="415" y="341" width="4" height="3" fill="#000"/>
<rect x="416" y="346" width="5" height="2" fill="#fff"/>
<rect x="411.5" y="338" width="1.5" height="11" fill="#fff"/>
<rect x="223" y="348" width="192" height="1" fill="#fff"/>
<rect x="225" y="338" width="188" height="1" fill="#fff"/>
<rect x="233" y="341" width="1" height="3" fill="#fff"/>
<rect x="235" y="341" width="1" height="3" fill="#fff"/>
<rect x="235" y="339" width="1" height="1" fill="#fff"/>
<rect x="237" y="341" width="1" height="3" fill="#fff"/>
<rect x="239" y="341" width="1" height="3" fill="#fff"/>
<rect x="239" y="339" width="1" height="1" fill="#fff"/>
<rect x="241" y="341" width="1" height="3" fill="#fff"/>
<rect x="250" y="341" width="1" height="3" fill="#fff"/>
<rect x="252" y="341" width="1" height="3" fill="#fff"/>
<rect x="252" y="339" width="1" height="1" fill="#fff"/>
<rect x="254" y="341" width="1" height="3" fill="#fff"/>
<rect x="256" y="341" width="1" height="3" fill="#fff"/>
<rect x="256" y="339" width="1" height="1" fill="#fff"/>
<rect x="258" y="341" width="1" height="3" fill="#fff"/>
<rect x="265" y="341" width="1" height="3" fill="#fff"/>
<rect x="267" y="341" width="1" height="3" fill="#fff"/>
<rect x="267" y="339" width="1" height="1" fill="#fff"/>
<rect x="269" y="341" width="1" height="3" fill="#fff"/>
<rect x="271" y="341" width="1" height="3" fill="#fff"/>
<rect x="271" y="339" width="1" height="1" fill="#fff"/>
<rect x="282" y="341" width="1" height="3" fill="#fff"/>
<rect x="284" y="341" width="1" height="3" fill="#fff"/>
<rect x="284" y="339" width="1" height="1" fill="#fff"/>
<rect x="286" y="341" width="1" height="3" fill="#fff"/>
<rect x="292" y="341" width="1" height="3" fill="#fff"/>
<rect x="294" y="341" width="1" height="3" fill="#fff"/>
<rect x="294" y="339" width="1" height="1" fill="#fff"/>
<rect x="346" y="341" width="1" height="3" fill="#fff"/>
<rect x="348" y="341" width="1" height="3" fill="#fff"/>
<rect x="348" y="339" width="1" height="1" fill="#fff"/>
<rect x="350" y="341" width="1" height="3" fill="#fff"/>
<rect x="352" y="341" width="1" height="3" fill="#fff"/>
<rect x="352" y="339" width="1" height="1" fill="#fff"/>
<rect x="354" y="341" width="1" height="3" fill="#fff"/>
<rect x="363" y="341" width="1" height="3" fill="#fff"/>
<rect x="365" y="341" width="1" height="3" fill="#fff"/>
<rect x="365" y="339" width="1" height="1" fill="#fff"/>
<rect x="367" y="341" width="1" height="3" fill="#fff"/>
<rect x="369" y="341" width="1" height="3" fill="#fff"/>
<rect x="369" y="339" width="1" height="1" fill="#fff"/>
<rect x="379" y="341" width="1" height="3" fill="#fff"/>
<rect x="381" y="341" width="1" height="3" fill="#fff"/>
<rect x="381" y="339" width="1" height="1" fill="#fff"/>
<rect x="383" y="341" width="1" height="3" fill="#fff"/>
<rect x="385" y="341" width="1" height="3" fill="#fff"/>
<rect x="385" y="339" width="1" height="1" fill="#fff"/>
<rect x="393" y="341" width="1" height="3" fill="#fff"/>
<rect x="395" y="341" width="1" height="3" fill="#fff"/>
<rect x="395" y="339" width="1" height="1" fill="#fff"/>
<rect x="397" y="341" width="1" height="3" fill="#fff"/>
<rect x="399" y="341" width="1" height="3" fill="#fff"/>
<rect x="399" y="339" width="1" height="1" fill="#fff"/>
<rect x="401" y="341" width="1" height="3" fill="#fff"/>
<rect x="406" y="341" width="1" height="3" fill="#fff"/>
<rect x="408" y="341" width="1" height="3" fill="#fff"/>
<rect x="408" y="339" width="1" height="1" fill="#fff"/>
<rect x="316" y="298" width="6" height="4" fill="#fff"/>
<rect x="316" y="318" width="6" height="4" fill="#fff"/>
<rect x="316" y="325" width="6" height="4" fill="#fff"/>
<rect x="316" y="345" width="6" height="4" fill="#fff"/>
<rect x="295" y="303" width="48" height="14" fill="#000"/>
<rect x="295" y="330" width="48" height="14" fill="#000"/>
<rect x="297" y="304" width="44" height="12" rx="2" fill="#fff" class="aa"/>
<rect x="297" y="304" width="3" height="12" fill="#fff"/>
<text transform="translate(318.7,314.3) scale(1.0,1)" font-size="11" text-anchor="middle" fill="#000" stroke="#000" stroke-width="0.15">BANK 0</text>
<rect x="297" y="331" width="44" height="12" rx="2" fill="#fff" class="aa"/>
<rect x="297" y="331" width="3" height="12" fill="#fff"/>
<text transform="translate(318.7,341.3) scale(1.0,1)" font-size="11" text-anchor="middle" fill="#000" stroke="#000" stroke-width="0.15">BANK 1</text>
<rect x="180" y="365" width="258" height="13" fill="#000"/>
<rect x="181" y="366" width="5" height="2" fill="#fff"/>
<rect x="181" y="369" width="5" height="3" fill="#fff"/>
<rect x="181" y="373" width="5" height="3" fill="#fff"/>
<rect x="189" y="366" width="10" height="1" fill="#fff"/>
<rect x="190" y="368" width="7" height="5" fill="#fff"/>
<rect x="191" y="369" width="4" height="3" fill="#000"/>
<rect x="189" y="374" width="5" height="2" fill="#fff"/>
<rect x="199" y="366" width="1.5" height="11" fill="#fff"/>
<rect x="432" y="366" width="5" height="2" fill="#fff"/>
<rect x="432" y="369" width="5" height="3" fill="#fff"/>
<rect x="432" y="373" width="5" height="3" fill="#fff"/>
<rect x="419" y="366" width="10" height="1" fill="#fff"/>
<rect x="421" y="368" width="7" height="5" fill="#fff"/>
<rect x="423" y="369" width="4" height="3" fill="#000"/>
<rect x="424" y="374" width="5" height="2" fill="#fff"/>
<rect x="417.5" y="366" width="1.5" height="11" fill="#fff"/>
<rect x="195" y="376" width="228" height="1" fill="#fff"/>
<rect x="205" y="369" width="1" height="3" fill="#fff"/>
<rect x="207" y="369" width="1" height="3" fill="#fff"/>
<rect x="207" y="367" width="1" height="1" fill="#fff"/>
<rect x="209" y="369" width="1" height="3" fill="#fff"/>
<rect x="211" y="369" width="1" height="3" fill="#fff"/>
<rect x="211" y="367" width="1" height="1" fill="#fff"/>
<rect x="213" y="369" width="1" height="3" fill="#fff"/>
<rect x="223" y="369" width="1" height="3" fill="#fff"/>
<rect x="225" y="369" width="1" height="3" fill="#fff"/>
<rect x="225" y="367" width="1" height="1" fill="#fff"/>
<rect x="227" y="369" width="1" height="3" fill="#fff"/>
<rect x="229" y="369" width="1" height="3" fill="#fff"/>
<rect x="229" y="367" width="1" height="1" fill="#fff"/>
<rect x="231" y="369" width="1" height="3" fill="#fff"/>
<rect x="238" y="369" width="1" height="3" fill="#fff"/>
<rect x="240" y="369" width="1" height="3" fill="#fff"/>
<rect x="240" y="367" width="1" height="1" fill="#fff"/>
<rect x="242" y="369" width="1" height="3" fill="#fff"/>
<rect x="244" y="369" width="1" height="3" fill="#fff"/>
<rect x="244" y="367" width="1" height="1" fill="#fff"/>
<rect x="250" y="369" width="1" height="3" fill="#fff"/>
<rect x="252" y="369" width="1" height="3" fill="#fff"/>
<rect x="252" y="367" width="1" height="1" fill="#fff"/>
<rect x="254" y="369" width="1" height="3" fill="#fff"/>
<rect x="256" y="369" width="1" height="3" fill="#fff"/>
<rect x="256" y="367" width="1" height="1" fill="#fff"/>
<rect x="258" y="369" width="1" height="3" fill="#fff"/>
<rect x="260" y="369" width="1" height="3" fill="#fff"/>
<rect x="260" y="367" width="1" height="1" fill="#fff"/>
<rect x="266" y="369" width="1" height="3" fill="#fff"/>
<rect x="268" y="369" width="1" height="3" fill="#fff"/>
<rect x="268" y="367" width="1" height="1" fill="#fff"/>
<rect x="270" y="369" width="1" height="3" fill="#fff"/>
<rect x="272" y="369" width="1" height="3" fill="#fff"/>
<rect x="272" y="367" width="1" height="1" fill="#fff"/>
<rect x="274" y="369" width="1" height="3" fill="#fff"/>
<rect x="281" y="369" width="1" height="3" fill="#fff"/>
<rect x="283" y="369" width="1" height="3" fill="#fff"/>
<rect x="283" y="367" width="1" height="1" fill="#fff"/>
<rect x="336" y="369" width="1" height="3" fill="#fff"/>
<rect x="338" y="369" width="1" height="3" fill="#fff"/>
<rect x="338" y="367" width="1" height="1" fill="#fff"/>
<rect x="340" y="369" width="1" height="3" fill="#fff"/>
<rect x="342" y="369" width="1" height="3" fill="#fff"/>
<rect x="342" y="367" width="1" height="1" fill="#fff"/>
<rect x="351" y="369" width="1" height="3" fill="#fff"/>
<rect x="353" y="369" width="1" height="3" fill="#fff"/>
<rect x="353" y="367" width="1" height="1" fill="#fff"/>
<rect x="355" y="369" width="1" height="3" fill="#fff"/>
<rect x="357" y="369" width="1" height="3" fill="#fff"/>
<rect x="357" y="367" width="1" height="1" fill="#fff"/>
<rect x="366" y="369" width="1" height="3" fill="#fff"/>
<rect x="368" y="369" width="1" height="3" fill="#fff"/>
<rect x="368" y="367" width="1" height="1" fill="#fff"/>
<rect x="370" y="369" width="1" height="3" fill="#fff"/>
<rect x="372" y="369" width="1" height="3" fill="#fff"/>
<rect x="372" y="367" width="1" height="1" fill="#fff"/>
<rect x="377" y="369" width="1" height="3" fill="#fff"/>
<rect x="379" y="369" width="1" height="3" fill="#fff"/>
<rect x="379" y="367" width="1" height="1" fill="#fff"/>
<rect x="381" y="369" width="1" height="3" fill="#fff"/>
<rect x="391" y="369" width="1" height="3" fill="#fff"/>
<rect x="398" y="369" width="1" height="3" fill="#fff"/>
<rect x="400" y="369" width="1" height="3" fill="#fff"/>
<rect x="400" y="367" width="1" height="1" fill="#fff"/>
<rect x="402" y="369" width="1" height="3" fill="#fff"/>
<rect x="404" y="369" width="1" height="3" fill="#fff"/>
<rect x="404" y="367" width="1" height="1" fill="#fff"/>
<rect x="406" y="369" width="1" height="3" fill="#fff"/>
<rect x="413" y="369" width="1" height="3" fill="#fff"/>
<rect x="415" y="369" width="1" height="3" fill="#fff"/>
<rect x="415" y="367" width="1" height="1" fill="#fff"/>
<rect x="417" y="369" width="1" height="3" fill="#fff"/>
<rect x="385" y="366" width="4" height="11" fill="#fff"/>
<rect x="180" y="381" width="258" height="13" fill="#000"/>
<rect x="181" y="382" width="5" height="2" fill="#fff"/>
<rect x="181" y="385" width="5" height="3" fill="#fff"/>
<rect x="181" y="389" width="5" height="3" fill="#fff"/>
<rect x="189" y="382" width="10" height="1" fill="#fff"/>
<rect x="190" y="384" width="7" height="5" fill="#fff"/>
<rect x="191" y="385" width="4" height="3" fill="#000"/>
<rect x="189" y="390" width="5" height="2" fill="#fff"/>
<rect x="199" y="382" width="1.5" height="11" fill="#fff"/>
<rect x="432" y="382" width="5" height="2" fill="#fff"/>
<rect x="432" y="385" width="5" height="3" fill="#fff"/>
<rect x="432" y="389" width="5" height="3" fill="#fff"/>
<rect x="419" y="382" width="10" height="1" fill="#fff"/>
<rect x="421" y="384" width="7" height="5" fill="#fff"/>
<rect x="423" y="385" width="4" height="3" fill="#000"/>
<rect x="424" y="390" width="5" height="2" fill="#fff"/>
<rect x="417.5" y="382" width="1.5" height="11" fill="#fff"/>
<rect x="195" y="392" width="228" height="1" fill="#fff"/>
<rect x="205" y="384" width="1" height="3" fill="#fff"/>
<rect x="207" y="384" width="1" height="3" fill="#fff"/>
<rect x="209" y="384" width="1" height="3" fill="#fff"/>
<rect x="211" y="384" width="1" height="3" fill="#fff"/>
<rect x="213" y="384" width="1" height="3" fill="#fff"/>
<rect x="223" y="384" width="1" height="3" fill="#fff"/>
<rect x="225" y="384" width="1" height="3" fill="#fff"/>
<rect x="227" y="384" width="1" height="3" fill="#fff"/>
<rect x="229" y="384" width="1" height="3" fill="#fff"/>
<rect x="231" y="384" width="1" height="3" fill="#fff"/>
<rect x="238" y="384" width="1" height="3" fill="#fff"/>
<rect x="240" y="384" width="1" height="3" fill="#fff"/>
<rect x="242" y="384" width="1" height="3" fill="#fff"/>
<rect x="244" y="384" width="1" height="3" fill="#fff"/>
<rect x="250" y="384" width="1" height="3" fill="#fff"/>
<rect x="252" y="384" width="1" height="3" fill="#fff"/>
<rect x="254" y="384" width="1" height="3" fill="#fff"/>
<rect x="256" y="384" width="1" height="3" fill="#fff"/>
<rect x="258" y="384" width="1" height="3" fill="#fff"/>
<rect x="260" y="384" width="1" height="3" fill="#fff"/>
<rect x="266" y="384" width="1" height="3" fill="#fff"/>
<rect x="268" y="384" width="1" height="3" fill="#fff"/>
<rect x="270" y="384" width="1" height="3" fill="#fff"/>
<rect x="272" y="384" width="1" height="3" fill="#fff"/>
<rect x="274" y="384" width="1" height="3" fill="#fff"/>
<rect x="281" y="384" width="1" height="3" fill="#fff"/>
<rect x="283" y="384" width="1" height="3" fill="#fff"/>
<rect x="336" y="384" width="1" height="3" fill="#fff"/>
<rect x="338" y="384" width="1" height="3" fill="#fff"/>
<rect x="340" y="384" width="1" height="3" fill="#fff"/>
<rect x="342" y="384" width="1" height="3" fill="#fff"/>
<rect x="351" y="384" width="1" height="3" fill="#fff"/>
<rect x="353" y="384" width="1" height="3" fill="#fff"/>
<rect x="355" y="384" width="1" height="3" fill="#fff"/>
<rect x="357" y="384" width="1" height="3" fill="#fff"/>
<rect x="366" y="384" width="1" height="3" fill="#fff"/>
<rect x="368" y="384" width="1" height="3" fill="#fff"/>
<rect x="370" y="384" width="1" height="3" fill="#fff"/>
<rect x="372" y="384" width="1" height="3" fill="#fff"/>
<rect x="377" y="384" width="1" height="3" fill="#fff"/>
<rect x="379" y="384" width="1" height="3" fill="#fff"/>
<rect x="381" y="384" width="1" height="3" fill="#fff"/>
<rect x="391" y="384" width="1" height="3" fill="#fff"/>
<rect x="398" y="384" width="1" height="3" fill="#fff"/>
<rect x="400" y="384" width="1" height="3" fill="#fff"/>
<rect x="402" y="384" width="1" height="3" fill="#fff"/>
<rect x="404" y="384" width="1" height="3" fill="#fff"/>
<rect x="406" y="384" width="1" height="3" fill="#fff"/>
<rect x="413" y="384" width="1" height="3" fill="#fff"/>
<rect x="415" y="384" width="1" height="3" fill="#fff"/>
<rect x="417" y="384" width="1" height="3" fill="#fff"/>
<rect x="385" y="382" width="4" height="11" fill="#fff"/>
<rect x="285" y="363" width="46.5" height="15" rx="2.6" ry="2.6" fill="#000" class="aa"/>
<rect x="286.5" y="364.4" width="43.0" height="11.6" rx="1.5" ry="1.5" fill="#fff" class="aa"/>
<text transform="translate(307.95,374.7) scale(0.99,1)" font-size="11" text-anchor="middle" fill="#000" stroke="#000" stroke-width="0.15">BANK 2</text>
<rect x="285" y="380" width="46.5" height="15" rx="2.6" ry="2.6" fill="#000" class="aa"/>
<rect x="286.5" y="381.4" width="43.0" height="11.6" rx="1.5" ry="1.5" fill="#fff" class="aa"/>
<text transform="translate(307.95,391.5) scale(0.99,1)" font-size="11" text-anchor="middle" fill="#000" stroke="#000" stroke-width="0.15">BANK 3</text>
<rect x="443.5" y="300.5" width="19" height="89" fill="#fff" stroke="#000" stroke-width="1"/>
<rect x="455.5" y="300" width="1.0" height="90" fill="#000"/>
<rect x="447" y="300" width="2" height="1" fill="#fff"/>
<rect x="446.6" y="304.6" width="5" height="4.8" fill="#fff" stroke="#000" stroke-width="1.2" class="aa"/>
<rect x="453.3" y="305" width="1.3" height="5" fill="#000"/>
<rect x="458" y="304" width="3" height="5" fill="#000"/>
<rect x="457" y="305" width="5" height="3" fill="#000"/>
<rect x="456" y="306" width="2" height="1" fill="#000"/>
<rect x="446.6" y="312.6" width="5" height="4.8" fill="#fff" stroke="#000" stroke-width="1.2" class="aa"/>
<rect x="453.3" y="313" width="1.3" height="5" fill="#000"/>
<rect x="458" y="312" width="3" height="5" fill="#000"/>
<rect x="457" y="313" width="5" height="3" fill="#000"/>
<rect x="456" y="314" width="2" height="1" fill="#000"/>
<rect x="446.6" y="319.6" width="5" height="4.8" fill="#fff" stroke="#000" stroke-width="1.2" class="aa"/>
<rect x="453.3" y="320" width="1.3" height="5" fill="#000"/>
<rect x="458" y="319" width="3" height="5" fill="#000"/>
<rect x="457" y="320" width="5" height="3" fill="#000"/>
<rect x="456" y="321" width="2" height="1" fill="#000"/>
<rect x="446.6" y="327.6" width="5" height="4.8" fill="#fff" stroke="#000" stroke-width="1.2" class="aa"/>
<rect x="453.3" y="328" width="1.3" height="5" fill="#000"/>
<rect x="458" y="327" width="3" height="5" fill="#000"/>
<rect x="457" y="328" width="5" height="3" fill="#000"/>
<rect x="456" y="329" width="2" height="1" fill="#000"/>
<rect x="446.6" y="334.6" width="5" height="4.8" fill="#fff" stroke="#000" stroke-width="1.2" class="aa"/>
<rect x="453.3" y="335" width="1.3" height="5" fill="#000"/>
<rect x="458" y="334" width="3" height="5" fill="#000"/>
<rect x="457" y="335" width="5" height="3" fill="#000"/>
<rect x="456" y="336" width="2" height="1" fill="#000"/>
<rect x="446.6" y="342.6" width="5" height="4.8" fill="#fff" stroke="#000" stroke-width="1.2" class="aa"/>
<rect x="453.3" y="343" width="1.3" height="5" fill="#000"/>
<rect x="458" y="342" width="3" height="5" fill="#000"/>
<rect x="457" y="343" width="5" height="3" fill="#000"/>
<rect x="456" y="344" width="2" height="1" fill="#000"/>
<rect x="446.6" y="349.6" width="5" height="4.8" fill="#fff" stroke="#000" stroke-width="1.2" class="aa"/>
<rect x="453.3" y="350" width="1.3" height="5" fill="#000"/>
<rect x="458" y="349" width="3" height="5" fill="#000"/>
<rect x="457" y="350" width="5" height="3" fill="#000"/>
<rect x="456" y="351" width="2" height="1" fill="#000"/>
<rect x="446.6" y="357.6" width="5" height="4.8" fill="#fff" stroke="#000" stroke-width="1.2" class="aa"/>
<rect x="453.3" y="358" width="1.3" height="5" fill="#000"/>
<rect x="458" y="357" width="3" height="5" fill="#000"/>
<rect x="457" y="358" width="5" height="3" fill="#000"/>
<rect x="456" y="359" width="2" height="1" fill="#000"/>
<rect x="446.6" y="364.6" width="5" height="4.8" fill="#fff" stroke="#000" stroke-width="1.2" class="aa"/>
<rect x="453.3" y="365" width="1.3" height="5" fill="#000"/>
<rect x="458" y="364" width="3" height="5" fill="#000"/>
<rect x="457" y="365" width="5" height="3" fill="#000"/>
<rect x="456" y="366" width="2" height="1" fill="#000"/>
<rect x="446.6" y="372.6" width="5" height="4.8" fill="#fff" stroke="#000" stroke-width="1.2" class="aa"/>
<rect x="453.3" y="373" width="1.3" height="5" fill="#000"/>
<rect x="458" y="372" width="3" height="5" fill="#000"/>
<rect x="457" y="373" width="5" height="3" fill="#000"/>
<rect x="456" y="374" width="2" height="1" fill="#000"/>
<rect x="446.6" y="379.6" width="5" height="4.8" fill="#fff" stroke="#000" stroke-width="1.2" class="aa"/>
<rect x="453.3" y="380" width="1.3" height="5" fill="#000"/>
<rect x="458" y="379" width="3" height="5" fill="#000"/>
<rect x="457" y="380" width="5" height="3" fill="#000"/>
<rect x="456" y="381" width="2" height="1" fill="#000"/>
<rect x="501" y="345" width="10" height="63" fill="#000"/>
<rect x="505" y="347" width="1" height="60" fill="#fff"/>
<rect x="502" y="350" width="8" height="1" fill="#fff"/>
<rect x="502" y="354" width="8" height="1" fill="#fff"/>
<rect x="502" y="358" width="8" height="1" fill="#fff"/>
<rect x="502" y="363" width="8" height="1" fill="#fff"/>
<rect x="502" y="367" width="8" height="1" fill="#fff"/>
<rect x="502" y="371" width="8" height="1" fill="#fff"/>
<rect x="502" y="376" width="8" height="1" fill="#fff"/>
<rect x="502" y="380" width="8" height="1" fill="#fff"/>
<rect x="502" y="384" width="8" height="1" fill="#fff"/>
<rect x="502" y="388" width="8" height="1" fill="#fff"/>
<rect x="502" y="392" width="8" height="1" fill="#fff"/>
<rect x="502" y="397" width="8" height="1" fill="#fff"/>
<rect x="502" y="401" width="8" height="1" fill="#fff"/>
<rect x="502" y="405" width="8" height="1" fill="#fff"/>
<rect x="503" y="346" width="1" height="3" fill="#fff"/>
<rect x="528" y="346" width="10" height="25" fill="#000"/>
<rect x="532" y="348" width="1" height="22" fill="#fff"/>
<rect x="529" y="351" width="8" height="1" fill="#fff"/>
<rect x="529" y="356" width="8" height="1" fill="#fff"/>
<rect x="529" y="360" width="8" height="1" fill="#fff"/>
<rect x="529" y="364" width="8" height="1" fill="#fff"/>
<rect x="529" y="368" width="8" height="1" fill="#fff"/>
<rect x="530" y="347" width="1" height="3" fill="#fff"/>
<rect x="528" y="381" width="10.5" height="25" fill="#000"/>
<rect x="533" y="383" width="1" height="22" fill="#fff"/>
<rect x="537" y="383" width="1" height="22" fill="#fff"/>
<rect x="529" y="388" width="8.5" height="1" fill="#fff"/>
<rect x="529" y="392" width="8.5" height="1" fill="#fff"/>
<rect x="529" y="396" width="8.5" height="1" fill="#fff"/>
<rect x="529" y="401" width="8.5" height="1" fill="#fff"/>
<rect x="530" y="382" width="1" height="3" fill="#fff"/>
<rect x="545" y="334" width="10" height="80.5" fill="#000"/>
<rect x="549" y="336" width="1" height="77.5" fill="#fff"/>
<rect x="546" y="339" width="8" height="1" fill="#fff"/>
<rect x="546" y="343" width="8" height="1" fill="#fff"/>
<rect x="546" y="348" width="8" height="1" fill="#fff"/>
<rect x="546" y="352" width="8" height="1" fill="#fff"/>
<rect x="546" y="356" width="8" height="1" fill="#fff"/>
<rect x="546" y="360" width="8" height="1" fill="#fff"/>
<rect x="546" y="364" width="8" height="1" fill="#fff"/>
<rect x="546" y="369" width="8" height="1" fill="#fff"/>
<rect x="546" y="373" width="8" height="1" fill="#fff"/>
<rect x="546" y="377" width="8" height="1" fill="#fff"/>
<rect x="546" y="382" width="8" height="1" fill="#fff"/>
<rect x="546" y="386" width="8" height="1" fill="#fff"/>
<rect x="546" y="390" width="8" height="1" fill="#fff"/>
<rect x="546" y="394" width="8" height="1" fill="#fff"/>
<rect x="546" y="398" width="8" height="1" fill="#fff"/>
<rect x="546" y="403" width="8" height="1" fill="#fff"/>
<rect x="546" y="407" width="8" height="1" fill="#fff"/>
<rect x="546" y="411" width="8" height="1" fill="#fff"/>
<rect x="547" y="335" width="1" height="3" fill="#fff"/>
<rect x="521.5" y="318" width="26.0" height="15" rx="2.6" ry="2.6" fill="#000" class="aa"/>
<rect x="523.0" y="319.4" width="22.5" height="11.6" rx="1.5" ry="1.5" fill="#fff" class="aa"/>
<text transform="translate(534.2,329.3) scale(0.98,1)" font-size="11" text-anchor="middle" fill="#000" stroke="#000" stroke-width="0.15">CN2</text>
<polygon points="530.5,333.0 532.2,342.36 532.2,346.0 534.8,346.0 534.8,342.36 536.5,333.0" fill="#000" class="cr"/>
<polygon points="531.8,332.0 535.2,332.0 533.5,340.8" fill="#fff" class="cr"/>
<rect x="558.5" y="314" width="27.5" height="14.5" rx="2.6" ry="2.6" fill="#000" class="aa"/>
<rect x="560.0" y="315.4" width="24.0" height="11.1" rx="1.5" ry="1.5" fill="#fff" class="aa"/>
<text transform="translate(571.95,325.3) scale(0.93,1)" font-size="11" text-anchor="middle" fill="#000" stroke="#000" stroke-width="0.15">CN1</text>
<polygon points="559,326 562,328.5 553,335 551,334" fill="#000" class="cr"/>
<rect x="492" y="420" width="26.5" height="15.5" rx="2.6" ry="2.6" fill="#000" class="aa"/>
<rect x="493.5" y="421.4" width="23.0" height="12.1" rx="1.5" ry="1.5" fill="#fff" class="aa"/>
<text transform="translate(504.95,430.8) scale(0.98,1)" font-size="11" text-anchor="middle" fill="#000" stroke="#000" stroke-width="0.15">CN4</text>
<rect x="520.5" y="419" width="26.5" height="14.5" rx="2.6" ry="2.6" fill="#000" class="aa"/>
<rect x="522.0" y="420.4" width="23.0" height="11.1" rx="1.5" ry="1.5" fill="#fff" class="aa"/>
<text transform="translate(533.45,430.3) scale(0.98,1)" font-size="11" text-anchor="middle" fill="#000" stroke="#000" stroke-width="0.15">CN3</text>
<polygon points="508.7,420.5 507.0,410.78 507.0,407.0 504.4,407.0 504.4,410.78 502.7,420.5" fill="#000" class="cr"/>
<polygon points="507.4,421.5 504.0,421.5 505.7,412.4" fill="#fff" class="cr"/>
<polygon points="536.7,419.5 535.0,409.42 535.0,405.5 532.4000000000001,405.5 532.4000000000001,409.42 530.7,419.5" fill="#000" class="cr"/>
<polygon points="535.4000000000001,420.5 532.0,420.5 533.7,411.1" fill="#fff" class="cr"/>
<rect x="571" y="340" width="11" height="20" fill="#000"/>
<rect x="575.5" y="341" width="1.0" height="17" fill="#fff"/>
<rect x="572" y="341" width="9" height="1" fill="#fff"/>
<rect x="572" y="345" width="9" height="1" fill="#fff"/>
<rect x="572" y="349" width="9" height="1" fill="#fff"/>
<rect x="572" y="352.5" width="9" height="1.0" fill="#fff"/>
<rect x="572" y="356" width="9" height="1" fill="#fff"/>
<rect x="593" y="343" width="29" height="15" rx="2.6" ry="2.6" fill="#000" class="aa"/>
<rect x="594.5" y="344.4" width="25.5" height="11.6" rx="1.5" ry="1.5" fill="#fff" class="aa"/>
<text transform="translate(607.2,354.3) scale(0.98,1)" font-size="11" text-anchor="middle" fill="#000" stroke="#000" stroke-width="0.15">CN7</text>
<polygon points="593.136222982756,347.0030943793691 585.1390299591943,348.3413408977266 582.0590299591943,348.2013408977266 581.9409700408057,350.7986591022734 585.0209700408058,350.9386591022734 592.863777017244,352.9969056206309" fill="#000" class="cr"/>
<polygon points="594.076161563772,348.34716114256116 593.9217755166486,351.7436541792762 586.4,349.7" fill="#fff" class="cr"/>
<rect x="565" y="372" width="25" height="30" fill="#000"/>
<rect x="584" y="369" width="6" height="36" fill="#000"/>
<rect x="587" y="367" width="3" height="41" fill="#000"/>
<rect x="560.5" y="378.5" width="4" height="7" fill="#fff" stroke="#000" stroke-width="1"/>
<rect x="560.5" y="387.5" width="4" height="7" fill="#fff" stroke="#000" stroke-width="1"/>
</svg>
</body></html>
